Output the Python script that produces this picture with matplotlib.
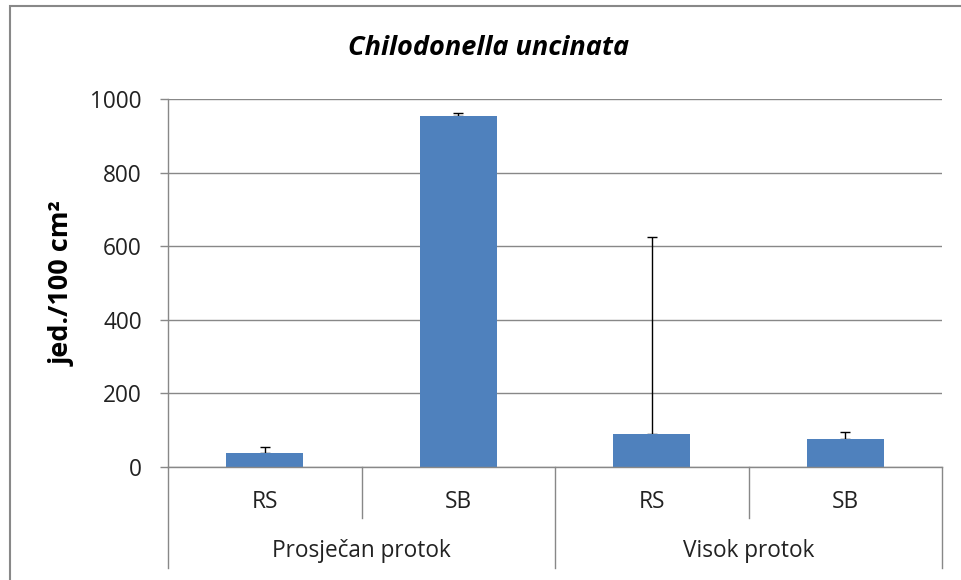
import matplotlib
matplotlib.use("Agg")
import matplotlib.pyplot as plt
from matplotlib.patches import Rectangle
from matplotlib.lines import Line2D
import matplotlib.transforms as mtransforms

plt.rcParams['font.family'] = ['Open Sans', 'DejaVu Sans']

categories = ["RS", "SB", "RS", "SB"]
groups = ["Prosječan protok", "Visok protok"]
values = [36.5, 954, 89, 75]
errors_up = [17.5, 8, 536, 20]
title = "Chilodonella uncinata"
ylabel = "jed./100 cm²"
yticks = [0, 200, 400, 600, 800, 1000]

W, H = 961, 580
fig = plt.figure(figsize=(W / 100, H / 100), dpi=100)
L, R, T, B = 168, 942, 99.3, 466.7
ax = fig.add_axes([L / W, 1 - B / H, (R - L) / W, (B - T) / H])

x = list(range(len(categories)))
ax.bar(x, values, width=0.4, color="#4F81BD", zorder=3)
ax.errorbar(x, values, yerr=[[0] * len(values), errors_up], fmt="none",
            ecolor="black", elinewidth=1, capsize=3.6, capthick=1, zorder=2.5)

ax.set_xlim(-0.5, len(categories) - 0.5)
ax.set_ylim(0, 1000)
ax.set_yticks(yticks)
ax.set_yticklabels([str(v) for v in yticks], fontsize=16.3, color="#222222")
ax.yaxis.grid(True, color="#888888", linewidth=1.0, zorder=0)
ax.set_axisbelow(True)
ax.tick_params(axis="y", length=5.8, width=1, color="#888888", pad=13)
ax.set_xticks([])
for s in ["top", "right", "bottom"]:
    ax.spines[s].set_visible(False)
ax.spines["left"].set_color("#888888")
ax.spines["left"].set_linewidth(1)

# bottom axis line (category axis)
trans = mtransforms.blended_transform_factory(ax.transData, ax.transAxes)
scale = (B - T)
long_y = -(568 - B) / scale
short_y = -(518 - B) / scale
ax.add_line(Line2D([-0.5, 3.5], [0, 0], transform=trans, color="#888888",
                   lw=1, clip_on=False, zorder=5))
for xi, yl in [(-0.5, long_y), (0.5, short_y), (1.5, long_y), (2.5, short_y), (3.5, long_y)]:
    ax.add_line(Line2D([xi, xi], [0, yl], transform=trans, color="#888888",
                       lw=1, clip_on=False))
for xi, c in zip(x, categories):
    ax.text(xi, -(502 - B) / scale, c, transform=trans, ha="center", va="center",
            fontsize=16.3, color="#222222")
for gi, g in enumerate(groups):
    ax.text(gi * 2 + 0.5, -(551 - B) / scale, g, transform=trans, ha="center",
            va="center", fontsize=16.3, color="#222222")

fig.text(489 / W, 1 - 48 / H, title, ha="center", va="center", fontsize=19.5,
         style="italic", fontweight="bold", color="black")
fig.text(63 / W, 1 - 284 / H, ylabel, ha="center", va="center", fontsize=19.5,
         fontweight="bold", rotation=90, color="black")

# outer chart border
fig.patches.append(Rectangle((10 / W, -0.05), 1.2, 1 - 6 / H + 0.05,
                             transform=fig.transFigure, fill=False,
                             edgecolor="#888888", lw=1.5))

fig.savefig("out.png", dpi=100)
